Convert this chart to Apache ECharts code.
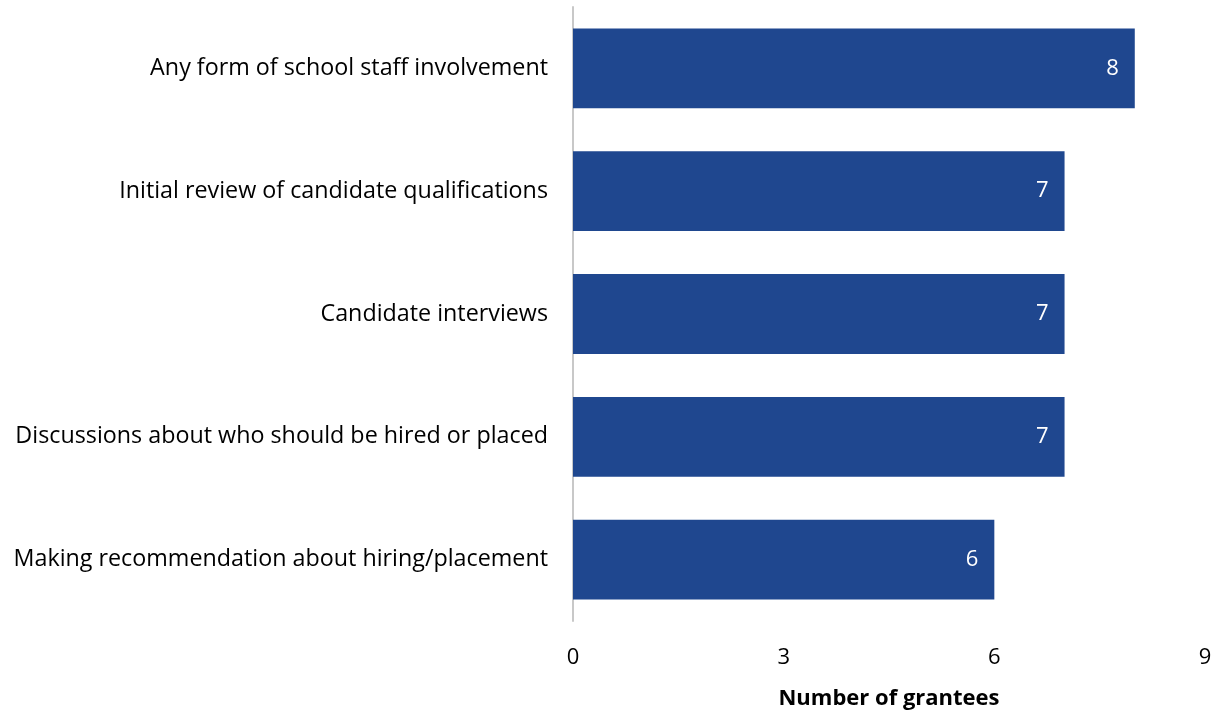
<!DOCTYPE html>
<html>
<head>
<meta charset="utf-8">
<script src="https://cdn.jsdelivr.net/npm/echarts@6/dist/echarts.min.js"></script>
<style>
  html, body { margin: 0; padding: 0; background: #fff; }
  #chart { width: 1221px; height: 713px; }
</style>
</head>
<body>
<div id="chart"></div>
<script>
// Staff involvement activities and the number of grantees reporting each
const categories = [
  'Any form of school staff involvement',
  'Initial review of candidate qualifications',
  'Candidate interviews',
  'Discussions about who should be hired or placed',
  'Making recommendation about hiring/placement'
];
const grantees = [8, 7, 7, 7, 6];
const xTicks = { min: 0, max: 9, interval: 3 };

const FONT = '"Open Sans", sans-serif';
const chart = echarts.init(document.getElementById('chart'));
chart.setOption({
  animation: false,
  grid: {
    left: 573, right: 16, top: 7, bottom: 92,
    containLabel: false,
    outerBoundsMode: 'none'
  },
  xAxis: {
    type: 'value',
    min: xTicks.min, max: xTicks.max, interval: xTicks.interval,
    axisLine: { show: false },
    axisTick: { show: false },
    splitLine: { show: false },
    axisLabel: { color: '#000', fontFamily: FONT, fontSize: 22, margin: 26 },
    name: 'Number of grantees',
    nameLocation: 'middle',
    nameGap: 67,
    nameTextStyle: { color: '#000', fontFamily: FONT, fontSize: 22, fontWeight: 'bold' }
  },
  yAxis: {
    type: 'category',
    data: categories,
    inverse: true,
    axisLine: { show: true, lineStyle: { color: '#c8c8c8', width: 2 } },
    axisTick: { show: false },
    axisLabel: { color: '#000', fontFamily: FONT, fontSize: 23.3, margin: 25 }
  },
  series: [{
    type: 'bar',
    data: grantees,
    barCategoryGap: '35%',
    itemStyle: { color: '#1f478f' },
    label: {
      show: true,
      position: 'insideRight',
      distance: 16,
      color: '#fff',
      fontFamily: FONT,
      fontSize: 22
    }
  }]
});
</script>
</body>
</html>
